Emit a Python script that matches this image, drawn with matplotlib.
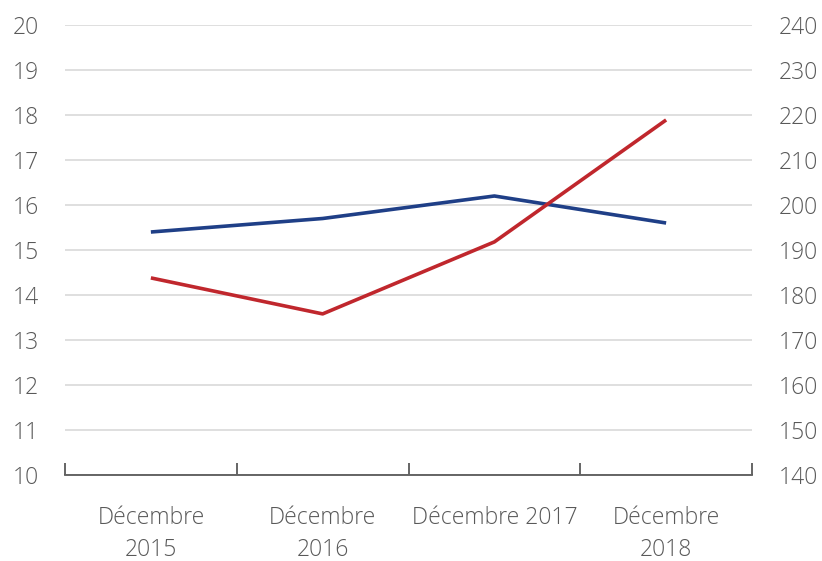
import matplotlib
matplotlib.use("Agg")
import matplotlib.pyplot as plt
from matplotlib.ticker import FixedLocator

categories = ["Décembre\n2015", "Décembre\n2016", "Décembre 2017", "Décembre\n2018"]
blue_values = [15.4, 15.7, 16.2, 15.6]      # left axis
red_values = [183.8, 175.8, 191.8, 218.9]    # right axis
left_ticks = list(range(10, 21))
right_ticks = list(range(140, 241, 10))

plt.rcParams['font.family'] = ['Open Sans', 'DejaVu Sans']
txt = '#595959'

fig = plt.figure(figsize=(8.22, 5.61), dpi=100)
ax = fig.add_axes([65/822, 1-475/561, (752-65)/822, (475-25)/561])
ax2 = ax.twinx()

x = list(range(len(categories)))
ax.plot(x, blue_values, color='#1F3F87', lw=2.6, solid_capstyle='butt', zorder=3)
ax2.plot(x, red_values, color='#C0272D', lw=2.6, solid_capstyle='butt', zorder=3)

ax.set_xlim(-0.5, len(categories) - 0.5)
ax.set_ylim(10, 20)
ax2.set_ylim(140, 240)
ax.set_yticks(left_ticks)
ax2.set_yticks(right_ticks)
ax.yaxis.grid(True, color='#d9d9d9', lw=1.2)
ax.set_axisbelow(True)

ax.set_xticks(x)
ax.set_xticklabels(categories)
ax.xaxis.set_minor_locator(FixedLocator([i - 0.5 for i in range(len(categories) + 1)]))
ax.tick_params(axis='x', which='major', length=0, pad=22, labelsize=16.5, labelcolor=txt)
ax.tick_params(axis='x', which='minor', length=9, width=1.3, direction='in', color='#595959')
ax.tick_params(axis='y', length=0, pad=19, labelsize=16.5, labelcolor=txt)
ax2.tick_params(axis='y', length=0, pad=19, labelsize=16.5, labelcolor=txt)

for a in (ax, ax2):
    for s in ('top', 'left', 'right'):
        a.spines[s].set_visible(False)
ax2.spines['bottom'].set_visible(False)
ax.spines['bottom'].set_color('#595959')
ax.spines['bottom'].set_linewidth(1.3)

for lab in ax.get_xticklabels() + ax.get_yticklabels() + ax2.get_yticklabels():
    lab.set_fontweight('light')
for lab in ax.get_xticklabels():
    lab.set_linespacing(1.45)

fig.savefig('out.png', dpi=100)
